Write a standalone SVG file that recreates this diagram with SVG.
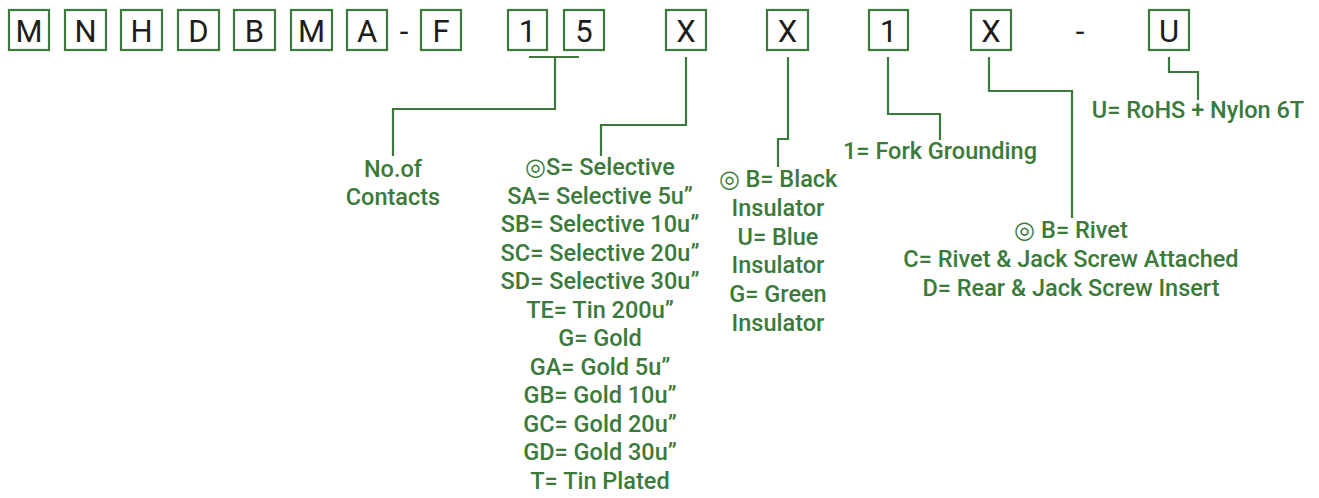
<svg xmlns="http://www.w3.org/2000/svg" width="1319" height="498" viewBox="0 0 1319 498">
<style>
.box rect{fill:#fff;stroke:#3b7a3b;stroke-width:2.2}
.box text,.dash{font-family:Roboto,"Liberation Sans",sans-serif;font-size:31px;fill:#1d1d1b;text-anchor:middle}
.lbl{font-family:Roboto,"Liberation Sans",sans-serif;font-size:23.5px;fill:#3b7a3b;text-anchor:middle;font-weight:500}
#connectors path{fill:none;stroke:#3b7a3b;stroke-width:2.2}
</style>
<rect width="1319" height="498" fill="#fff"/>
<g id="c1" class="box"><rect x="9" y="10" width="40" height="40"/><text x="29" y="42">M</text></g>
<g id="c2" class="box"><rect x="65" y="10" width="41" height="40"/><text x="85.5" y="42">N</text></g>
<g id="c3" class="box"><rect x="121" y="10" width="41" height="40"/><text x="141.5" y="42">H</text></g>
<g id="c4" class="box"><rect x="178" y="10" width="41" height="40"/><text x="198.5" y="42">D</text></g>
<g id="c5" class="box"><rect x="234" y="10" width="41" height="40"/><text x="254.5" y="42">B</text></g>
<g id="c6" class="box"><rect x="291" y="10" width="41" height="40"/><text x="311.5" y="42">M</text></g>
<g id="c7" class="box"><rect x="347" y="10" width="40" height="40"/><text x="367" y="42">A</text></g>
<text class="dash" x="404" y="42">-</text>
<g id="c8" class="box"><rect x="421" y="10" width="40" height="40"/><text x="441" y="42">F</text></g>
<g id="c9" class="box"><rect x="508" y="10" width="39" height="40"/><text x="527.5" y="42">1</text></g>
<g id="c10" class="box"><rect x="564" y="10" width="40" height="40"/><text x="584" y="42">5</text></g>
<g id="c11" class="box"><rect x="666" y="10" width="40" height="40"/><text x="686" y="42">X</text></g>
<g id="c12" class="box"><rect x="767" y="10" width="41" height="40"/><text x="787.5" y="42">X</text></g>
<g id="c13" class="box"><rect x="869" y="10" width="39" height="40"/><text x="888.5" y="42">1</text></g>
<g id="c14" class="box"><rect x="971" y="10" width="40" height="40"/><text x="991" y="42">X</text></g>
<text class="dash" x="1080" y="42">-</text>
<g id="c15" class="box"><rect x="1149" y="10" width="40" height="40"/><text x="1169" y="42">U</text></g>

<g id="connectors">
<path d="M529 57H579M555 57V109H393V156"/>
<path d="M686 57V125H601V156"/>
<path d="M788 57V139H778V167"/>
<path d="M888 57V114H940V140"/>
<path d="M989 57V91H1072V218"/>
<path d="M1169 57V72H1198V100"/>
</g>

<g id="l1" class="lbl"><text x="393" y="177">No.of</text><text x="393" y="205">Contacts</text></g>
<g id="l2" class="lbl">
<text x="600" y="175">◎S= Selective</text>
<text x="600" y="203.5">SA= Selective 5u”</text>
<text x="600" y="232">SB= Selective 10u”</text>
<text x="600" y="260.5">SC= Selective 20u”</text>
<text x="600" y="289">SD= Selective 30u”</text>
<text x="600" y="317.5">TE= Tin 200u”</text>
<text x="600" y="346">G= Gold</text>
<text x="600" y="374.5">GA= Gold 5u”</text>
<text x="600" y="403">GB= Gold 10u”</text>
<text x="600" y="431.5">GC= Gold 20u”</text>
<text x="600" y="460">GD= Gold 30u”</text>
<text x="600" y="488.5">T= Tin Plated</text>
</g>
<g id="l3" class="lbl">
<text x="778" y="187">◎ B= Black</text>
<text x="778" y="216">Insulator</text>
<text x="778" y="245">U= Blue</text>
<text x="778" y="273">Insulator</text>
<text x="778" y="302">G= Green</text>
<text x="778" y="331">Insulator</text>
</g>
<g id="l4" class="lbl"><text x="940" y="159">1= Fork Grounding</text></g>
<g id="l5" class="lbl">
<text x="1071" y="238">◎ B= Rivet</text>
<text x="1071" y="267">C= Rivet &amp; Jack Screw Attached</text>
<text x="1071" y="296">D= Rear &amp; Jack Screw Insert</text>
</g>
<g id="l6" class="lbl"><text x="1198" y="118">U= RoHS + Nylon 6T</text></g>
</svg>
